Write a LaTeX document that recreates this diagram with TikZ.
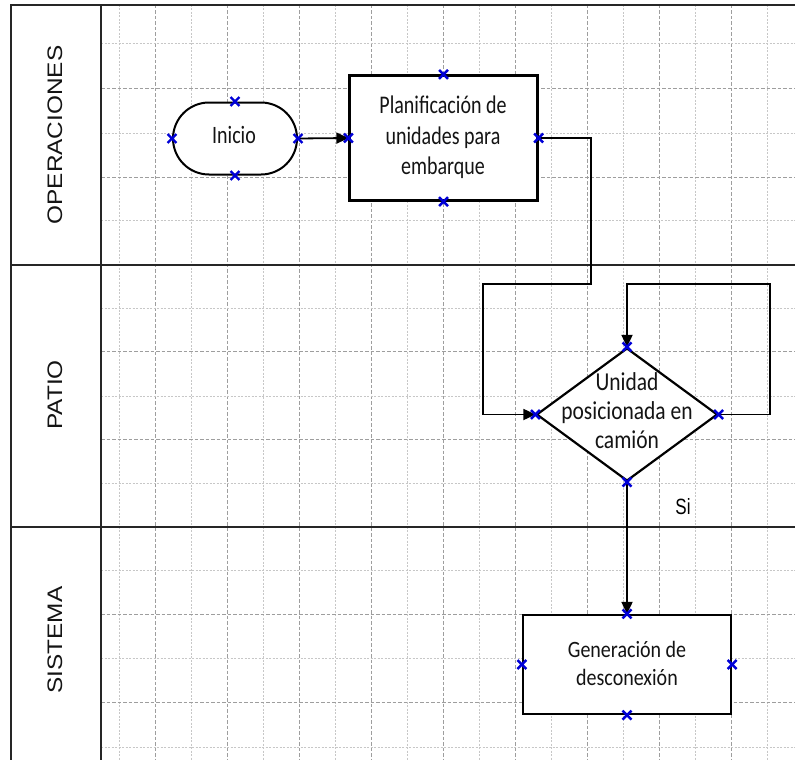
\documentclass[tikz,border=0pt]{standalone}
\usepackage{fontspec}
\setmainfont{Carlito}
\newfontfamily\lanefont{Liberation Sans}
\usetikzlibrary{arrows.meta,shapes.geometric,shapes.misc}
\definecolor{gridlight}{gray}{0.78}
\definecolor{griddark}{gray}{0.62}
\definecolor{pinblue}{RGB}{0,0,215}
\definecolor{ink}{gray}{0.08}
% vertically stretched text block
\newcommand\tallbox[2][1.25]{\scalebox{1}[#1]{\begin{tabular}{@{}c@{}}#2\end{tabular}}}

\begin{document}
\begin{tikzpicture}[x=1pt,y=-1pt,
  lane/.style={line width=2.6pt, draw=black!85},
  gridA/.style={draw=gridlight, line width=0.8pt, dash pattern=on 2pt off 1.5pt},
  gridB/.style={draw=griddark, line width=1pt, dash pattern=on 3.5pt off 2pt},
  lanelabel/.style={rotate=90, text=ink, inner sep=0pt,
    font=\lanefont\fontsize{21}{24}\selectfont},
  process/.style={draw, line width=2.2pt, rectangle, fill=white,
    minimum width=188pt, minimum height=125pt, inner sep=0pt},
  terminal/.style={draw, line width=2pt, rectangle, rounded corners=36pt, fill=white,
    minimum width=124pt, minimum height=72pt, inner sep=0pt},
  decision/.style={draw, line width=2.2pt, diamond, fill=white,
    minimum width=181pt, minimum height=133pt, inner sep=0pt},
  boxtext/.style={text=ink, inner sep=0pt, font=\fontsize{20}{24}\selectfont},
  dectext/.style={text=ink, inner sep=0pt, font=\fontsize{21.5}{24}\selectfont},
  flow/.style={draw=black, line width=1.8pt, -{Triangle[length=12pt,width=11pt]}},
  pinx/.style={cross out, draw=pinblue, line width=2.4pt, minimum size=6.5pt, inner sep=0pt}
]
\useasboundingbox (0,0) rectangle (795,760);
\fill[white] (0,0) rectangle (795,760);

% background grid
\foreach \k in {0,...,18}{
  \pgfmathsetmacro\gx{119+36*\k}
  \ifodd\k \draw[gridB] (\gx,5) -- (\gx,760); \else \draw[gridA] (\gx,5) -- (\gx,760); \fi
}
\foreach \gy/\gs in {43/A,88/B,133/A,177/B,220/A,
                     308/A,351/B,396/A,439/B,483/A,
                     570/A,614/B,658/A,702/B,747/A}
  \draw[grid\gs] (101,\gy) -- (795,\gy);

% swimlane frame
\draw[lane] (795,5) -- (11,5) -- (11,760);
\draw[lane] (101,5) -- (101,760);
\draw[lane] (11,265) -- (795,265);
\draw[lane] (11,527) -- (795,527);

% lane titles
\node[lanelabel] (lop) at (55,135) {\scalebox{1.16}[1]{OPERACIONES}};
\node[lanelabel] (lpa) at (55,395) {\scalebox{1.16}[1]{PATIO}};
\node[lanelabel] (lsi) at (55,640) {\scalebox{1.16}[1]{SISTEMA}};

% shapes
\node[terminal] (ini) at (235,138.5) {};
\node[process] (plan) at (443.5,138) {};
\node[decision] (dec) at (627,414.5) {};
\node[process, minimum width=208pt, minimum height=99pt] (gen) at (627,664.5) {};

% texts
\node[boxtext] (ini-t) at (234,138) {\tallbox{Inicio}};
\node[boxtext] (plan-t) at (443,138) {\tallbox[1.27]{Planificación de\\unidades para\\embarque}};
\node[dectext] (dec-t) at (627,414) {\tallbox[1.2]{Unidad\\posicionada en\\camión}};
\node[boxtext] (gen-t) at (627,666) {\tallbox[1.17]{Generación de\\desconexión}};
\node[text=black, inner sep=0pt, font=\lanefont\fontsize{17}{20}\selectfont] (si) at (683,507) {\scalebox{1}[1.3]{Si}};

% route points of the connectors
\coordinate (r1) at (591,284);
\coordinate (r2) at (483,284);
\coordinate (l1) at (770,284);

% connectors
\draw[flow] (ini.east) -- (plan.west);
\draw[flow] (plan.east) -| (r1) -- (r2) |- (dec.west);
\draw[flow] (dec.east) -| (l1) -| (dec.north);
\draw[flow] (dec.south) -- (gen.north);

% connection points
\foreach \n in {ini,plan,dec,gen}
  \foreach \a in {north,south,east,west}
    \node[pinx] (\n-\a-pin) at (\n.\a) {};
\end{tikzpicture}
\end{document}
